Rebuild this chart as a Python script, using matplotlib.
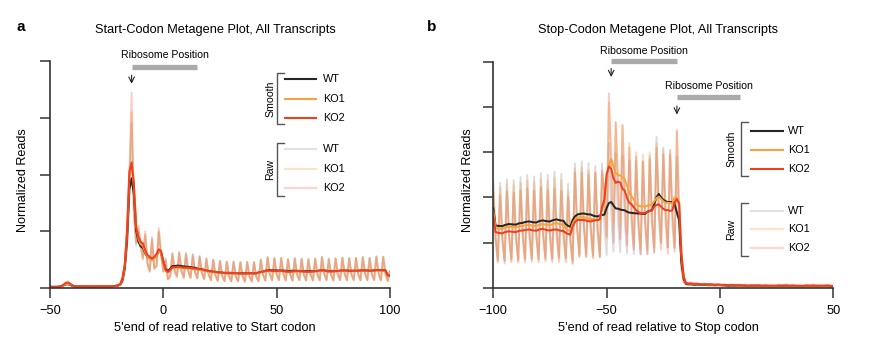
#Metagene plots: lecturas normalizadas alrededor del codon de inicio y de parada
#WT, KO1, KO2 - senal cruda (periodicidad de 3 nt) y suavizada

import matplotlib
matplotlib.use('Agg')
import matplotlib.pyplot as plt
from matplotlib.lines import Line2D
import numpy as np
import pandas as pd

plt.rcParams['font.family'] = ['Liberation Sans', 'DejaVu Sans']

#posiciones (nt) relativas al codon
pos_inicio = np.arange(-50, 101)
pos_fin = np.arange(-100, 51)

#panel a: lecturas crudas por posicion (-50 .. 100), 5 codones por linea
inicio_wt = [
    0.02, 0.02, 0.02, 0.02, 0.02, 0.03, 0.04, 0.07, 0.08, 0.05, 0.03, 0.03, 0.03, 0.03, 0.03,
    0.03, 0.03, 0.03, 0.03, 0.02, 0.03, 0.03, 0.03, 0.03, 0.03, 0.03, 0.03, 0.03, 0.03, 0.04,
    0.04, 0.05, 0.10, 0.28, 0.70, 1.60, 2.90, 1.30, 0.75, 1.00, 0.70, 0.50, 0.92, 0.42, 0.30,
    0.85, 0.35, 0.38, 0.98, 0.58, 0.30, 0.52, 0.17, 0.22, 0.62, 0.32, 0.22, 0.64, 0.32, 0.20,
    0.62, 0.31, 0.19, 0.60, 0.29, 0.18, 0.56, 0.27, 0.16, 0.52, 0.24, 0.14, 0.50, 0.22, 0.13,
    0.48, 0.21, 0.12, 0.47, 0.21, 0.12, 0.47, 0.20, 0.12, 0.46, 0.20, 0.12, 0.46, 0.20, 0.12,
    0.46, 0.20, 0.12, 0.50, 0.23, 0.13, 0.55, 0.25, 0.14, 0.54, 0.25, 0.14, 0.53, 0.25, 0.14,
    0.52, 0.24, 0.14, 0.53, 0.24, 0.14, 0.52, 0.24, 0.14, 0.52, 0.23, 0.14, 0.52, 0.24, 0.14,
    0.54, 0.25, 0.14, 0.52, 0.24, 0.14, 0.52, 0.24, 0.14, 0.53, 0.25, 0.14, 0.53, 0.24, 0.14,
    0.53, 0.24, 0.14, 0.54, 0.25, 0.14, 0.53, 0.24, 0.14, 0.55, 0.25, 0.14, 0.55, 0.25, 0.13,
    0.30]
inicio_ko1 = [
    0.02, 0.02, 0.02, 0.02, 0.02, 0.03, 0.04, 0.08, 0.09, 0.05, 0.04, 0.03, 0.03, 0.03, 0.03,
    0.03, 0.03, 0.03, 0.03, 0.02, 0.03, 0.03, 0.03, 0.03, 0.03, 0.03, 0.03, 0.03, 0.03, 0.04,
    0.04, 0.06, 0.11, 0.33, 0.78, 1.95, 3.10, 1.50, 0.80, 1.05, 0.75, 0.52, 0.95, 0.42, 0.28,
    0.85, 0.33, 0.38, 1.00, 0.58, 0.28, 0.48, 0.15, 0.19, 0.58, 0.29, 0.19, 0.60, 0.29, 0.17,
    0.58, 0.29, 0.17, 0.56, 0.27, 0.16, 0.54, 0.26, 0.15, 0.50, 0.23, 0.13, 0.49, 0.22, 0.12,
    0.47, 0.21, 0.12, 0.46, 0.20, 0.11, 0.45, 0.20, 0.12, 0.45, 0.19, 0.11, 0.45, 0.20, 0.11,
    0.45, 0.20, 0.12, 0.49, 0.22, 0.13, 0.53, 0.24, 0.13, 0.51, 0.23, 0.14, 0.52, 0.24, 0.13,
    0.50, 0.23, 0.12, 0.51, 0.23, 0.14, 0.50, 0.23, 0.13, 0.50, 0.22, 0.13, 0.51, 0.24, 0.13,
    0.54, 0.24, 0.14, 0.50, 0.23, 0.13, 0.52, 0.23, 0.14, 0.53, 0.25, 0.13, 0.52, 0.23, 0.14,
    0.52, 0.24, 0.13, 0.54, 0.25, 0.14, 0.52, 0.24, 0.14, 0.55, 0.25, 0.13, 0.54, 0.24, 0.12,
    0.30]
inicio_ko2 = [
    0.02, 0.02, 0.02, 0.02, 0.02, 0.03, 0.05, 0.10, 0.12, 0.06, 0.04, 0.03, 0.03, 0.03, 0.03,
    0.03, 0.03, 0.03, 0.03, 0.02, 0.03, 0.03, 0.03, 0.03, 0.03, 0.03, 0.03, 0.03, 0.03, 0.04,
    0.04, 0.06, 0.12, 0.35, 0.80, 1.90, 3.44, 1.30, 0.80, 1.10, 0.80, 0.55, 1.00, 0.45, 0.30,
    0.90, 0.35, 0.40, 1.05, 0.60, 0.30, 0.50, 0.15, 0.20, 0.60, 0.30, 0.20, 0.62, 0.30, 0.18,
    0.60, 0.30, 0.18, 0.58, 0.28, 0.17, 0.56, 0.27, 0.16, 0.52, 0.24, 0.14, 0.50, 0.22, 0.13,
    0.48, 0.21, 0.12, 0.46, 0.20, 0.12, 0.46, 0.20, 0.12, 0.45, 0.20, 0.11, 0.46, 0.20, 0.12,
    0.45, 0.20, 0.12, 0.50, 0.23, 0.13, 0.54, 0.24, 0.14, 0.52, 0.24, 0.14, 0.53, 0.24, 0.13,
    0.50, 0.23, 0.13, 0.52, 0.24, 0.14, 0.51, 0.23, 0.13, 0.50, 0.23, 0.13, 0.52, 0.24, 0.14,
    0.55, 0.24, 0.14, 0.51, 0.23, 0.13, 0.52, 0.24, 0.14, 0.54, 0.25, 0.14, 0.52, 0.24, 0.14,
    0.53, 0.24, 0.14, 0.55, 0.25, 0.14, 0.53, 0.24, 0.14, 0.56, 0.25, 0.14, 0.55, 0.25, 0.12,
    0.30]

#panel b: lecturas crudas por posicion (-100 .. 50), 5 codones por linea
fin_wt = [
    2.35, 1.17, 0.62, 2.33, 1.16, 0.61, 2.40, 1.20, 0.64, 2.38, 1.19, 0.63, 2.45, 1.22, 0.65,
    2.50, 1.25, 0.66, 2.46, 1.23, 0.65, 2.54, 1.27, 0.67, 2.50, 1.25, 0.66, 2.57, 1.29, 0.69,
    2.52, 1.26, 0.67, 2.30, 1.15, 0.61, 2.75, 1.38, 0.73, 2.80, 1.40, 0.74, 2.76, 1.38, 0.73,
    2.69, 1.34, 0.71, 2.75, 1.38, 0.73, 3.20, 1.70, 0.80, 2.98, 1.49, 0.79, 2.92, 1.46, 0.77,
    2.82, 1.41, 0.75, 2.80, 1.40, 0.74, 2.79, 1.39, 0.74, 2.92, 1.46, 0.77, 3.34, 1.90, 1.00,
    3.10, 1.75, 0.90, 3.05, 1.75, 0.90, 2.90, 1.20, 0.40, 0.12, 0.08, 0.07, 0.10, 0.07, 0.06,
    0.09, 0.07, 0.06, 0.09, 0.06, 0.05, 0.08, 0.06, 0.05, 0.08, 0.06, 0.05, 0.07, 0.05, 0.04,
    0.07, 0.05, 0.04, 0.07, 0.05, 0.04, 0.06, 0.04, 0.04, 0.06, 0.04, 0.04, 0.06, 0.04, 0.03,
    0.06, 0.04, 0.03, 0.05, 0.04, 0.03, 0.06, 0.04, 0.03, 0.06, 0.04, 0.03, 0.05, 0.04, 0.03,
    0.05, 0.04, 0.03, 0.05, 0.04, 0.03, 0.05, 0.04, 0.03, 0.05, 0.04, 0.03, 0.05, 0.04, 0.03,
    0.04]
fin_ko1 = [
    2.26, 1.13, 0.60, 2.22, 1.11, 0.59, 2.30, 1.15, 0.61, 2.28, 1.14, 0.60, 2.33, 1.17, 0.62,
    2.37, 1.18, 0.63, 2.33, 1.16, 0.62, 2.40, 1.20, 0.64, 2.36, 1.18, 0.62, 2.43, 1.22, 0.65,
    2.38, 1.19, 0.63, 2.13, 1.06, 0.56, 2.64, 1.32, 0.70, 2.66, 1.33, 0.70, 2.60, 1.30, 0.69,
    2.55, 1.28, 0.68, 2.55, 2.05, 1.10, 4.10, 3.00, 1.45, 3.65, 2.50, 1.35, 3.60, 2.40, 1.20,
    3.20, 1.90, 0.96, 3.00, 1.60, 0.86, 2.95, 1.60, 0.85, 3.00, 1.65, 0.90, 3.20, 1.85, 1.00,
    3.05, 1.70, 0.90, 3.05, 1.68, 0.88, 3.45, 1.65, 0.50, 0.14, 0.10, 0.08, 0.12, 0.09, 0.07,
    0.10, 0.08, 0.07, 0.10, 0.07, 0.06, 0.09, 0.07, 0.06, 0.09, 0.06, 0.05, 0.08, 0.06, 0.05,
    0.08, 0.05, 0.05, 0.07, 0.05, 0.04, 0.07, 0.05, 0.04, 0.07, 0.05, 0.04, 0.07, 0.05, 0.04,
    0.06, 0.05, 0.04, 0.06, 0.04, 0.04, 0.07, 0.05, 0.04, 0.07, 0.05, 0.04, 0.06, 0.05, 0.04,
    0.06, 0.04, 0.04, 0.06, 0.05, 0.04, 0.06, 0.05, 0.04, 0.06, 0.04, 0.04, 0.06, 0.05, 0.04,
    0.05]
fin_ko2 = [
    2.11, 1.05, 0.56, 2.05, 1.03, 0.54, 2.13, 1.06, 0.57, 2.10, 1.05, 0.56, 2.16, 1.08, 0.57,
    2.20, 1.10, 0.58, 2.15, 1.08, 0.57, 2.22, 1.11, 0.59, 2.16, 1.08, 0.57, 2.20, 1.10, 0.58,
    2.14, 1.07, 0.57, 2.01, 1.00, 0.53, 2.55, 1.28, 0.68, 2.55, 1.28, 0.68, 2.50, 1.25, 0.66,
    2.55, 1.28, 0.68, 2.60, 2.10, 1.15, 4.30, 2.60, 1.00, 3.67, 2.30, 1.08, 3.60, 1.90, 0.95,
    3.10, 1.60, 0.85, 2.90, 1.40, 0.75, 2.80, 1.42, 0.76, 2.85, 1.50, 0.80, 3.10, 1.60, 0.85,
    2.95, 1.45, 0.76, 2.95, 1.40, 0.80, 3.49, 1.60, 0.50, 0.15, 0.10, 0.08, 0.12, 0.09, 0.08,
    0.11, 0.08, 0.07, 0.10, 0.08, 0.07, 0.10, 0.07, 0.06, 0.09, 0.07, 0.06, 0.08, 0.06, 0.05,
    0.08, 0.06, 0.05, 0.08, 0.05, 0.05, 0.07, 0.05, 0.04, 0.07, 0.05, 0.05, 0.07, 0.05, 0.04,
    0.07, 0.05, 0.04, 0.06, 0.05, 0.04, 0.07, 0.05, 0.04, 0.08, 0.05, 0.04, 0.07, 0.05, 0.04,
    0.06, 0.04, 0.04, 0.07, 0.05, 0.04, 0.07, 0.05, 0.04, 0.06, 0.05, 0.04, 0.07, 0.05, 0.04,
    0.05]

muestras = ['WT', 'KO1', 'KO2']
color_suave = {'WT': '#262626', 'KO1': '#f9a23a', 'KO2': '#f23d1f'}
color_crudo = {'WT': '#9a9a9a', 'KO1': '#f6a94a', 'KO2': '#ef5b3c'}
alpha_crudo = {'WT': 0.35, 'KO1': 0.38, 'KO2': 0.3}

W, H = 869, 344  #tamaño en pixeles


def fx(px):
    return px / W


def fy(py):
    return 1 - py / H


#suavizado: media movil de 3 nt (un codon)
def suavizar(valores):
    return pd.Series(valores).rolling(3, center=True, min_periods=1).mean().values


def dibujar_panel(ax, pos, datos, xlim, yticks, xticks):
    for m in muestras:  #senal cruda
        ax.plot(pos, datos[m], color=color_crudo[m], alpha=alpha_crudo[m], lw=1.4)
    for m in muestras:  #senal suavizada
        ax.plot(pos, suavizar(datos[m]), color=color_suave[m], lw=1.45)
    ax.set_xlim(*xlim)
    ax.set_ylim(yticks[0], yticks[-1])
    ax.set_yticks(yticks)
    ax.set_yticklabels([])
    ax.set_xticks(xticks)
    ax.spines[['top', 'right']].set_visible(False)
    for s in ['left', 'bottom']:
        ax.spines[s].set_linewidth(1.2)
        ax.spines[s].set_color('#333333')
    ax.tick_params(direction='out', length=7.5, width=1.1, color='#333333',
                   labelsize=9.2, pad=4.5)


def ribosoma(ax, x0, x1, y_texto, y_barra, y_flecha0, y_flecha1):
    ax.text((x0 + x1) / 2, y_texto, 'Ribosome Position', ha='center', va='center',
            fontsize=7.6, clip_on=False)
    ax.plot([x0, x1], [y_barra, y_barra], color='#aaaaaa', lw=3.8,
            solid_capstyle='butt', clip_on=False)
    ax.annotate('', xy=(x0, y_flecha1), xytext=(x0, y_flecha0), annotation_clip=False,
                arrowprops=dict(arrowstyle='->', color='#222222', lw=0.8))


def leyenda(fig, xc, xl0, xl1, xt, xg, grupos):
    for nombre, y0, y1, ys, crudo in grupos:
        #corchete
        fig.add_artist(Line2D([fx(xc + 7), fx(xc), fx(xc), fx(xc + 7)],
                              [fy(y0), fy(y0), fy(y1), fy(y1)], color='#555555', lw=1))
        fig.text(fx(xg), fy((y0 + y1) / 2), nombre, rotation=90, ha='center', va='center',
                 fontsize=7.6)
        for m, y in zip(muestras, ys):
            if crudo:
                fig.add_artist(Line2D([fx(xl0), fx(xl1)], [fy(y), fy(y)], lw=1.6,
                                      color=color_crudo[m], alpha=alpha_crudo[m] * 0.8))
            else:
                fig.add_artist(Line2D([fx(xl0), fx(xl1)], [fy(y), fy(y)], lw=1.5,
                                      color=color_suave[m]))
            fig.text(fx(xt), fy(y), m, ha='left', va='center', fontsize=7.8)


def main():
    fig = plt.figure(figsize=(W / 100, H / 100), dpi=100)

    #panel a: codon de inicio
    ax_a = fig.add_axes([fx(50), fy(288), 340 / W, 227 / H])
    datos_a = {'WT': inicio_wt, 'KO1': inicio_ko1, 'KO2': inicio_ko2}
    dibujar_panel(ax_a, pos_inicio, datos_a, (-50, 100), [0, 1, 2, 3, 4], [-50, 0, 50, 100])
    ribosoma(ax_a, -14, 15, 4.11, 3.9, 3.8, 3.55)

    #panel b: codon de parada
    ax_b = fig.add_axes([fx(493.3), fy(288), 340 / W, 226.3 / H])
    datos_b = {'WT': fin_wt, 'KO1': fin_ko1, 'KO2': fin_ko2}
    dibujar_panel(ax_b, pos_fin, datos_b, (-100, 50), [0, 1, 2, 3, 4, 5], [-100, -50, 0, 50])
    ribosoma(ax_b, -48, -19, 5.24, 5.02, 4.91, 4.6)
    ribosoma(ax_b, -19, 9, 4.46, 4.23, 4.08, 3.77)

    #titulos y etiquetas
    fig.text(fx(21), fy(27), 'a', fontsize=11, fontweight='bold', ha='center', va='center')
    fig.text(fx(432), fy(27), 'b', fontsize=11, fontweight='bold', ha='center', va='center')
    fig.text(fx(215), fy(30), 'Start-Codon Metagene Plot, All Transcripts',
             fontsize=9.2, ha='center', va='center')
    fig.text(fx(658), fy(30), 'Stop-Codon Metagene Plot, All Transcripts',
             fontsize=9.2, ha='center', va='center')
    fig.text(fx(215), fy(328), "5'end of read relative to Start codon",
             fontsize=9.2, ha='center', va='center')
    fig.text(fx(658), fy(328), "5'end of read relative to Stop codon",
             fontsize=9.2, ha='center', va='center')
    fig.text(fx(23), fy(180), 'Normalized Reads', rotation=90, fontsize=9.1,
             ha='center', va='center')
    fig.text(fx(468), fy(180), 'Normalized Reads', rotation=90, fontsize=9.1,
             ha='center', va='center')

    #leyendas
    leyenda(fig, 277, 285, 316, 322.7, 270,
            [('Smooth', 72.7, 124.3, [79, 99.3, 118.3], False),
             ('Raw', 142.7, 195.7, [149.3, 169, 187.7], True)])
    leyenda(fig, 740.7, 751, 783, 787.7, 731,
            [('Smooth', 122.3, 175.7, [130.7, 150, 169.3], False),
             ('Raw', 202.7, 255.7, [211, 229, 247.7], True)])

    fig.savefig('out.png', dpi=100)


if __name__ == "__main__":
    main()
